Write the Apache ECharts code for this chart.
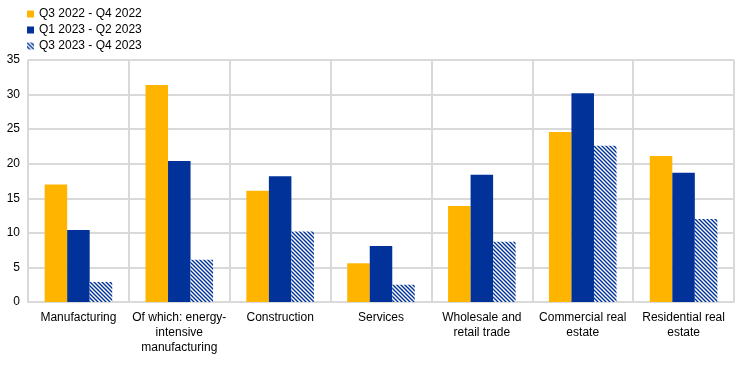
<!DOCTYPE html>
<html><head><meta charset="utf-8">
<script src="https://cdn.jsdelivr.net/npm/echarts@6/dist/echarts.min.js"></script>
<style>html,body{margin:0;padding:0;background:#fff}#c{width:737px;height:384px}</style>
</head><body><div id="c"></div>
<script>
var categories = ['Manufacturing', 'Of which: energy-\nintensive\nmanufacturing', 'Construction', 'Services', 'Wholesale and\nretail trade', 'Commercial real\nestate', 'Residential real\nestate'];
var seriesNames = ['Q3 2022 - Q4 2022', 'Q1 2023 - Q2 2023', 'Q3 2023 - Q4 2023'];
var s1 = [17.0, 31.4, 16.1, 5.6, 13.9, 24.6, 21.1];
var s2 = [10.4, 20.4, 18.2, 8.1, 18.4, 30.2, 18.7];
var s3 = [2.9, 6.1, 10.2, 2.5, 8.7, 22.6, 12.0];
var yTicks = [0, 35, 5];

var cv = document.createElement('canvas');
cv.width = 4; cv.height = 4;
var ctx = cv.getContext('2d');
ctx.fillStyle = '#ffffff'; ctx.fillRect(0, 0, 4, 4);
ctx.strokeStyle = '#003299'; ctx.lineWidth = 1.4;
ctx.beginPath();
ctx.moveTo(-1, -1); ctx.lineTo(5, 5);
ctx.moveTo(-3, 1); ctx.lineTo(3, 7);
ctx.moveTo(1, -3); ctx.lineTo(7, 3);
ctx.stroke();
var hatch = {image: cv, repeat: 'repeat'};

var chart = echarts.init(document.getElementById('c'));
var font = 'Liberation Sans, Arial, sans-serif';
chart.setOption({
  animation: false,
  textStyle: {fontFamily: font},
  legend: {
    orient: 'vertical', left: 22, top: 3, itemWidth: 7, itemHeight: 7, itemGap: 4,
    icon: 'rect',
    textStyle: {fontSize: 12, color: '#000', fontFamily: font},
    data: seriesNames
  },
  grid: {left: 28, right: 3, top: 60, bottom: 82, containLabel: false},
  xAxis: {
    type: 'category', data: categories,
    axisLine: {lineStyle: {color: '#d9d9d9', width: 2}},
    axisTick: {show: false},
    splitLine: {show: true, lineStyle: {color: '#d9d9d9', width: 2}},
    axisLabel: {color: '#000', fontSize: 12, lineHeight: 15, margin: 8, interval: 0, fontFamily: font}
  },
  yAxis: {
    type: 'value', min: yTicks[0], max: yTicks[1], interval: yTicks[2],
    axisLine: {show: false}, axisTick: {show: false},
    splitLine: {lineStyle: {color: '#d9d9d9', width: 2}},
    axisLabel: {color: '#000', fontSize: 12, margin: 8, fontFamily: font}
  },
  series: [
    {name: seriesNames[0], type: 'bar', data: s1, barGap: '0%', barCategoryGap: '33%',
     itemStyle: {color: '#FFB400'}},
    {name: seriesNames[1], type: 'bar', data: s2,
     itemStyle: {color: '#003299'}},
    {name: seriesNames[2], type: 'bar', data: s3,
     itemStyle: {color: hatch}}
  ]
});
</script></body></html>
